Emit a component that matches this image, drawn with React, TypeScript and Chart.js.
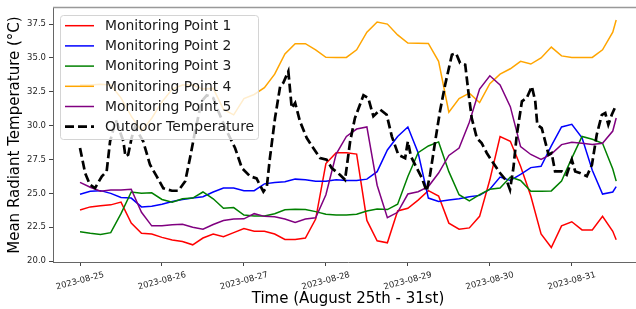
import React, { useEffect, useRef } from 'react';
import { Chart, registerables } from 'chart.js';

Chart.register(...registerables);

// Hours since 2023-08-25 00:00
const hours = [0, 3, 6, 9, 12, 15, 18, 21, 24, 27, 30, 33, 36, 39, 42, 45, 48, 51, 54, 57, 60, 63, 66, 69, 72, 75, 78, 81, 84, 87, 90, 93, 96, 99, 102, 105, 108, 111, 114, 117, 120, 123, 126, 129, 132, 135, 138, 141, 144, 147, 150, 153, 156, 157];

const point1 = [23.77, 24.0, 24.08, 24.15, 24.35, 22.8, 22.05, 22.0, 21.75, 21.55, 21.45, 21.2, 21.7, 22.0, 21.8, 22.1, 22.4, 22.2, 22.2, 22.0, 21.6, 21.6, 21.7, 23.1, 27.2, 28.0, 28.0, 27.9, 23.0, 21.5, 21.35, 23.7, 23.9, 24.5, 25.2, 24.8, 22.8, 22.35, 22.45, 23.3, 26.0, 29.2, 28.85, 27.0, 24.8, 22.0, 21.0, 22.6, 22.9, 22.3, 22.3, 23.3, 22.2, 21.57];
const point2 = [24.93, 25.15, 25.2, 25.0, 24.7, 24.65, 24.0, 24.05, 24.2, 24.4, 24.55, 24.65, 24.75, 25.1, 25.4, 25.4, 25.2, 25.2, 25.7, 25.8, 25.85, 26.05, 26.0, 25.9, 25.9, 26.0, 25.95, 25.95, 26.05, 26.6, 28.2, 29.2, 29.9, 28.0, 24.65, 24.4, 24.5, 24.6, 24.75, 24.85, 25.3, 26.2, 25.95, 26.4, 26.9, 27.0, 28.5, 29.9, 30.1, 29.1, 26.7, 24.95, 25.1, 25.5];
const point3 = [22.16, 22.05, 21.97, 22.1, 23.5, 25.1, 25.0, 25.04, 24.55, 24.35, 24.6, 24.65, 25.1, 24.6, 23.9, 23.95, 23.4, 23.33, 23.32, 23.5, 23.78, 23.82, 23.8, 23.65, 23.45, 23.4, 23.4, 23.45, 23.7, 23.85, 23.8, 24.2, 26.25, 28.0, 28.5, 28.8, 26.6, 24.9, 24.45, 24.9, 25.3, 25.4, 26.2, 25.95, 25.15, 25.15, 25.18, 25.9, 27.6, 29.2, 29.0, 28.7, 26.8, 25.9];
const point4 = [33.0, 33.0, 33.05, 33.0, 32.05, 30.7, 29.6, 30.55, 31.75, 32.7, 33.0, 33.0, 32.7, 32.75, 31.2, 30.8, 32.0, 32.3, 32.8, 33.8, 35.3, 36.05, 36.05, 35.6, 35.05, 35.04, 35.04, 35.6, 36.9, 37.65, 37.5, 36.7, 36.1, 36.08, 36.07, 34.75, 31.0, 32.0, 32.4, 31.7, 33.1, 33.8, 34.2, 34.75, 34.55, 35.0, 35.8, 35.15, 35.04, 35.04, 35.04, 35.6, 36.9, 37.8];
const point5 = [25.81, 25.45, 25.15, 25.24, 25.24, 25.3, 23.6, 22.6, 22.6, 22.68, 22.72, 22.5, 22.35, 22.7, 23.0, 23.1, 23.12, 23.5, 23.3, 23.27, 23.1, 22.85, 23.1, 23.2, 24.9, 27.9, 29.2, 29.75, 29.9, 25.6, 23.2, 23.6, 24.95, 25.12, 25.5, 26.5, 27.8, 28.35, 30.25, 32.7, 33.68, 33.0, 31.4, 28.45, 27.87, 27.5, 27.9, 28.6, 28.78, 28.7, 28.6, 28.7, 29.6, 30.56];

const outdoorHours = [0, 1.5, 2.9, 4.4, 6.4, 7.8, 8.8, 10.5, 12.7, 13.3, 14.1, 15.1, 16.1, 18.5, 20.5, 22.5, 24.4, 26.9, 28.8, 30.8, 32.2, 33.7, 35.6, 37.1, 39.0, 40.5, 43.0, 45.4, 47.4, 49.8, 51.7, 53.7, 54.7, 55.6, 57.1, 58.6, 59.5, 61.0, 62.0, 63.0, 64.4, 66.4, 68.3, 70.3, 72.2, 73.7, 76.1, 77.6, 79.1, 80.5, 83.0, 84.4, 85.9, 87.9, 89.8, 91.3, 93.2, 95.2, 96.0, 96.9, 98.6, 100.1, 101.5, 102.5, 104.0, 105.4, 106.9, 108.9, 110.1, 111.3, 112.8, 113.7, 114.7, 116.2, 117.6, 119.1, 121.0, 123.0, 125.0, 125.9, 126.9, 127.9, 129.4, 130.8, 132.3, 133.3, 133.9, 135.2, 136.7, 137.2, 138.1, 139.1, 141.1, 142.5, 144.0, 145.0, 146.4, 148.4, 149.9, 151.3, 152.8, 153.8, 154.7, 155.7, 157.0];
const outdoorTemps = [28.35, 26.5, 25.64, 25.39, 26.26, 26.62, 28.84, 30.4, 28.84, 27.73, 27.85, 29.08, 29.9, 28.84, 27.11, 26.23, 25.37, 25.19, 25.19, 25.89, 27.6, 29.58, 31.8, 32.24, 32.04, 31.06, 29.58, 28.35, 26.87, 26.26, 26.1, 25.12, 25.49, 27.6, 30.56, 32.9, 33.15, 34.01, 31.3, 31.67, 30.32, 29.08, 28.35, 27.6, 27.48, 26.87, 26.37, 26.0, 28.84, 30.56, 32.24, 32.04, 30.69, 31.18, 30.8, 29.21, 27.85, 27.6, 28.84, 27.73, 26.87, 26.13, 25.15, 26.37, 28.84, 31.06, 33.0, 35.24, 35.34, 34.62, 34.5, 32.53, 30.56, 29.08, 28.71, 27.98, 27.24, 26.5, 25.89, 25.27, 26.87, 29.33, 31.8, 32.04, 32.9, 31.8, 30.07, 29.82, 28.35, 27.85, 27.98, 26.62, 26.62, 26.37, 27.48, 26.62, 26.5, 26.26, 27.11, 29.33, 30.8, 30.93, 30.07, 30.8, 31.54];

const dayTickHours = [0, 24, 48, 72, 96, 120, 144];
const dayLabels = ['2023-08-25', '2023-08-26', '2023-08-27', '2023-08-28', '2023-08-29', '2023-08-30', '2023-08-31'];
const yTicks = [20, 22.5, 25, 27.5, 30, 32.5, 35, 37.5];

const seriesLabels = ['Monitoring Point 1', 'Monitoring Point 2', 'Monitoring Point 3', 'Monitoring Point 4', 'Monitoring Point 5', 'Outdoor Temperature'];
const seriesColors = ['red', 'blue', 'green', 'orange', 'purple', 'black'];

const FONT = '"DejaVu Sans", "Liberation Sans", sans-serif';

const chartDecor = {
  id: 'chartDecor',
  afterDatasetsDraw(chart: any) {
    const ctx = chart.ctx;
    const area = chart.chartArea;
    ctx.save();
    // top spine
    ctx.strokeStyle = '#999';
    ctx.lineWidth = 1.5;
    ctx.beginPath();
    ctx.moveTo(area.left, area.top - 0.5);
    ctx.lineTo(area.right, area.top - 0.5);
    ctx.stroke();

    // legend box
    const x0 = 60.5, y0 = 15.5, w = 198, h = 124;
    ctx.beginPath();
    if (ctx.roundRect) ctx.roundRect(x0, y0, w, h, 3);
    else ctx.rect(x0, y0, w, h);
    ctx.fillStyle = 'rgba(255,255,255,0.8)';
    ctx.fill();
    ctx.strokeStyle = '#d4d4d4';
    ctx.lineWidth = 1;
    ctx.stroke();

    ctx.font = '13.9px ' + FONT;
    ctx.textAlign = 'left';
    ctx.textBaseline = 'middle';
    seriesLabels.forEach((label, i) => {
      const ry = 25.7 + i * 20.2;
      ctx.save();
      ctx.strokeStyle = seriesColors[i];
      if (i === 5) {
        ctx.lineWidth = 2.7;
        ctx.setLineDash([9, 4]);
      } else {
        ctx.lineWidth = 1.5;
      }
      ctx.beginPath();
      ctx.moveTo(65, ry);
      ctx.lineTo(94, ry);
      ctx.stroke();
      ctx.restore();
      ctx.fillStyle = '#1a1a1a';
      ctx.fillText(label, 105, ry + 0.7);
    });
    ctx.restore();
  },
  afterDraw(chart: any) {
    const ctx = chart.ctx;
    const scale = chart.scales.x;
    const area = chart.chartArea;
    ctx.save();
    ctx.font = '8.5px ' + FONT;
    ctx.fillStyle = '#262626';
    ctx.textAlign = 'center';
    ctx.textBaseline = 'middle';
    dayTickHours.forEach((hv, i) => {
      const px = scale.getPixelForValue(hv);
      ctx.save();
      ctx.translate(px, area.bottom + 19);
      ctx.rotate((-15 * Math.PI) / 180);
      ctx.fillText(dayLabels[i], 0, 0);
      ctx.restore();
    });
    ctx.restore();
  },
};

export default function App() {
  const canvasRef = useRef<HTMLCanvasElement | null>(null);

  useEffect(() => {
    if (!canvasRef.current) return;
    const seriesValues = [point1, point2, point3, point4, point5];
    const datasets: any[] = seriesValues.map((vals, i) => ({
      label: seriesLabels[i],
      data: hours.map((hv, j) => ({ x: hv, y: vals[j] })),
      borderColor: seriesColors[i],
      backgroundColor: seriesColors[i],
      borderWidth: 1.5,
      pointRadius: 0,
      tension: 0,
      fill: false,
      order: 5 - i,
    }));
    datasets.push({
      label: seriesLabels[5],
      data: outdoorHours.map((hv, j) => ({ x: hv, y: outdoorTemps[j] })),
      borderColor: seriesColors[5],
      backgroundColor: seriesColors[5],
      borderWidth: 2.7,
      borderDash: [9, 4],
      pointRadius: 0,
      tension: 0,
      fill: false,
      order: -1,
    });

    const chart = new Chart(canvasRef.current, {
      type: 'line',
      data: { datasets },
      options: {
        animation: false,
        responsive: false,
        maintainAspectRatio: false,
        events: [],
        layout: { padding: { left: 0, top: 8, right: 17, bottom: 0 } },
        plugins: {
          legend: { display: false },
          tooltip: { enabled: false },
          title: { display: false },
        },
        scales: {
          x: {
            type: 'linear',
            min: -7.91,
            max: 164.85,
            afterBuildTicks: (scale: any) => {
              scale.ticks = dayTickHours.map((v) => ({ value: v }));
            },
            afterFit: (scale: any) => {
              scale.height = 47;
            },
            ticks: { display: false, autoSkip: false },
            grid: {
              display: true,
              drawOnChartArea: false,
              drawTicks: true,
              tickLength: 4,
              tickColor: '#444',
              tickWidth: 1,
            },
            border: { display: true, color: '#666', width: 1 },
            title: {
              display: true,
              text: 'Time (August 25th - 31st)',
              color: '#000',
              font: { family: FONT, size: 15 },
              padding: { top: 0, bottom: 1 },
            },
          },
          y: {
            type: 'linear',
            min: 19.93,
            max: 38.68,
            afterBuildTicks: (scale: any) => {
              scale.ticks = yTicks.map((v) => ({ value: v }));
            },
            afterFit: (scale: any) => {
              scale.width = 53;
            },
            ticks: {
              autoSkip: false,
              color: '#262626',
              padding: 3,
              font: { family: FONT, size: 8.5 },
              callback: (v: any) => Number(v).toFixed(1),
            },
            grid: {
              display: true,
              drawOnChartArea: false,
              drawTicks: true,
              tickLength: 4,
              tickColor: '#444',
              tickWidth: 1,
            },
            border: { display: true, color: '#666', width: 1 },
            title: {
              display: true,
              text: 'Mean Radiant Temperature (°C)',
              color: '#000',
              font: { family: FONT, size: 15 },
              padding: { top: 6.5, bottom: 0 },
            },
          },
        },
      },
      plugins: [chartDecor],
    });

    return () => {
      chart.destroy();
    };
  }, []);

  return (
    <div
      style={{
        position: 'fixed',
        left: 0,
        top: 0,
        width: 636,
        height: 309,
        overflow: 'hidden',
        background: '#fff',
      }}
    >
      <canvas ref={canvasRef} width={660} height={309} style={{ width: 660, height: 309, display: 'block' }} />
    </div>
  );
}
